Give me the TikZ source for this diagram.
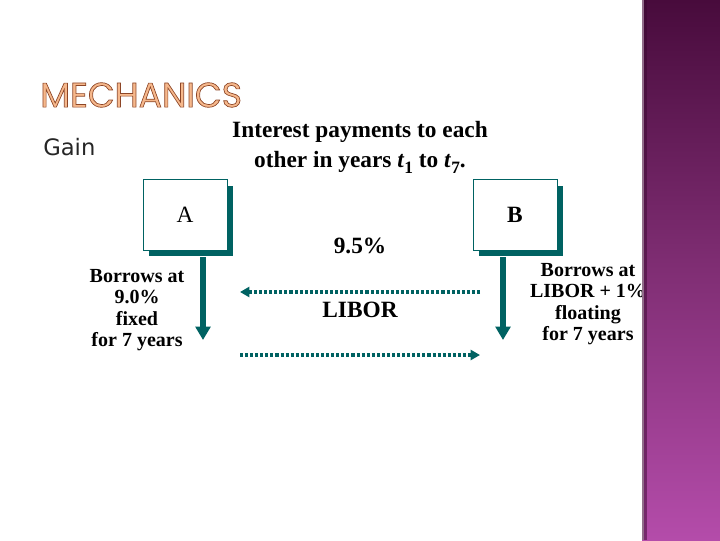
\documentclass[tikz,border=0pt]{standalone}
\usepackage{fontspec}
\setmainfont{Liberation Serif}
\newfontfamily\titlefont{Poppins}
\newfontfamily\gainfont{DejaVu Sans}
\usetikzlibrary{positioning,arrows.meta,shadows}
\definecolor{tealdark}{RGB}{0,98,98}
\definecolor{titleorange}{RGB}{246,184,140}
\definecolor{plumtop}{RGB}{72,11,60}
\definecolor{plummid}{RGB}{128,46,116}
\definecolor{plumbot}{RGB}{180,76,170}
\newcommand{\outlined}[1]{\special{pdf:literal direct 2 Tr 0.55 0.27 0.15 RG 0.5 w}#1\special{pdf:literal direct 0 Tr}}
\newcommand{\yr}[1]{\textit{t}\raisebox{-0.25em}{\fontsize{13}{13}\selectfont #1}}

\begin{document}
\begin{tikzpicture}[x=0.75pt,y=-0.75pt,
  party/.style={draw=tealdark,fill=white,line width=0.6pt,minimum width=63pt,minimum height=53pt,
    font=\fontsize{17.5}{20}\selectfont,
    drop shadow={fill=tealdark,opacity=1,shadow xshift=4.5pt,shadow yshift=-4.5pt}},
  loan/.style={draw=tealdark,line width=3.8pt,-{Triangle[width=11pt,length=10pt]}},
  swap/.style={draw=tealdark,line width=2.3pt,dash pattern=on 2.3pt off 1.5pt,-{Triangle[width=7.5pt,length=7pt]}},
  note/.style={align=center,font=\bfseries\fontsize{15}{16.2}\selectfont},
  big/.style={font=\bfseries\fontsize{17.5}{22.5}\selectfont}]
\useasboundingbox (0,0) rectangle (720,540);

% title and heading
\node[anchor=west,inner sep=0pt,text=titleorange,font=\titlefont\fontsize{26}{26}\selectfont] (title) at (40,95) {\outlined{MECHANICS}};
\node[anchor=west,inner sep=0pt,text=black!85,font=\gainfont\fontsize{17}{19}\selectfont] (gain) at (43,147) {Gain};
\node[big,align=center] (head) at (360,147) {Interest payments to each\\other in years \yr{1} to \yr{7}.};

% the two parties
\node[party] (a) at (185,215) {A};
\node[party,font=\bfseries\fontsize{17.5}{20}\selectfont] (b) at (515,215) {B};

\coordinate (aTop) at (203,257);
\coordinate (aEnd) at (203,340);
\coordinate (bTop) at (503,257);
\coordinate (bEnd) at (503,340);
\draw[loan] (aTop) -- (aEnd);
\draw[loan] (bTop) -- (bEnd);

\node[note] (aNote) at (137,310) {Borrows at\\9.0\%\\fixed\\for 7 years};
\node[note] (bNote) at (588,304) {Borrows at\\LIBOR + 1\%\\floating\\for 7 years};

% payments
\node[big] (fixed) at (360,246) {9.5\%};
\node[big] (libor) at (360,310) {LIBOR};
\coordinate (topR) at (480,292);
\coordinate (topL) at (240,292);
\coordinate (botL) at (240,355);
\coordinate (botR) at (480,355);
\draw[swap] (topR) -- (topL);
\draw[swap] (botL) -- (botR);

% side band
\shade[top color=plumtop,bottom color=plumbot,middle color=plummid] (642,0) rectangle (720,540);
\fill[plumtop!60!white] (642,0) rectangle (644,540);
\fill[plumtop!80!black,opacity=0.5] (644,0) rectangle (647,540);
\end{tikzpicture}
\end{document}
